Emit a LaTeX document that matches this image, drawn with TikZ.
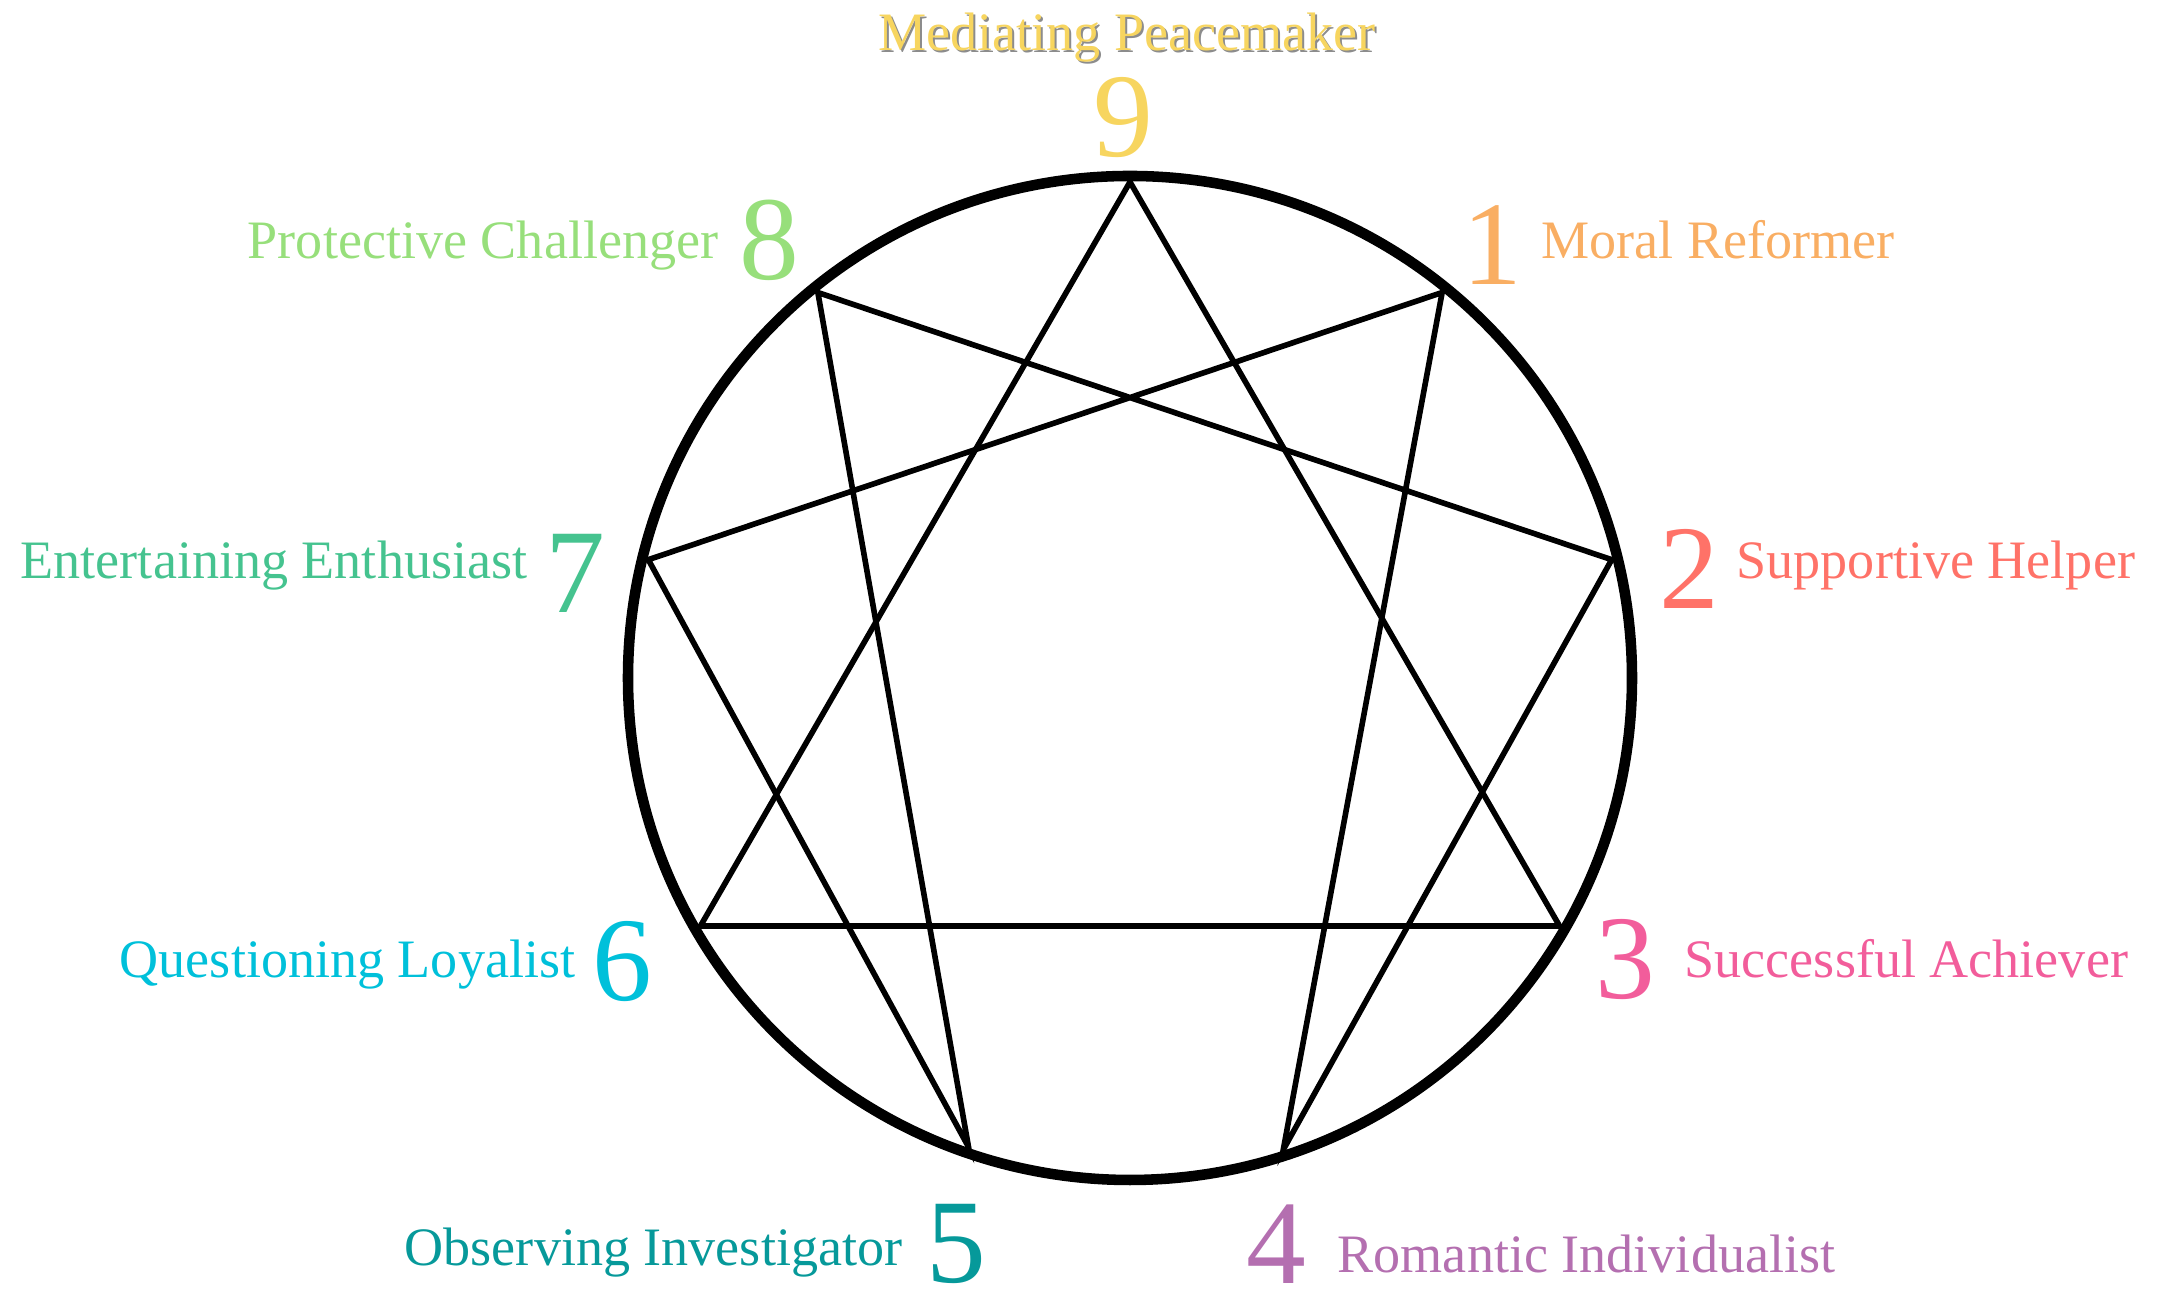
\documentclass[tikz,border=0pt]{standalone}
\usepackage{fontspec}
\setmainfont{Liberation Serif}
\usetikzlibrary{calc}
\definecolor{ink}{HTML}{000000}
\definecolor{shadowgray}{HTML}{8C8C8C}
\definecolor{typenine}{HTML}{F7D55F}
\definecolor{typeone}{HTML}{F9AE63}
\definecolor{typetwo}{HTML}{FF7268}
\definecolor{typethree}{HTML}{F25D9B}
\definecolor{typefour}{HTML}{B46FB0}
\definecolor{typefive}{HTML}{06999A}
\definecolor{typesix}{HTML}{00C0DA}
\definecolor{typeseven}{HTML}{45C38F}
\definecolor{typeeight}{HTML}{97DF7B}
\tikzset{
  ring/.style={draw=ink, line width=3pt},
  chord/.style={draw=ink, line width=1.6pt, line join=miter},
  type number/.style={font=\fontsize{34}{34}\selectfont, inner sep=0pt},
  type label/.style={font=\fontsize{15.4}{16}\selectfont, inner sep=0pt}
}

\begin{document}
\begin{tikzpicture}[x=1cm,y=1cm]
  \useasboundingbox (0,0) rectangle (21.61,12.97);
  % Circle and its nine points
  \coordinate (c) at (11.30,6.19);
  \draw[ring] (c) circle (5.02);
  \coordinate (p9) at ($(c)+(90:4.96)$);
  \coordinate (p1) at ($(c)+(51:4.96)$);
  \coordinate (p2) at ($(c)+(13.8:4.96)$);
  \coordinate (p3) at ($(c)+(-30:4.96)$);
  \coordinate (p4) at ($(c)+(-72:4.96)$);
  \coordinate (p5) at ($(c)+(-109:4.96)$);
  \coordinate (p6) at ($(c)+(-150:4.96)$);
  \coordinate (p7) at ($(c)+(166.2:4.96)$);
  \coordinate (p8) at ($(c)+(129:4.96)$);

  % Inner triangle and hexad
  \draw[chord] (p9) -- (p3) -- (p6) -- cycle;
  \draw[chord] (p1) -- (p4) -- (p2) -- (p8) -- (p5) -- (p7) -- cycle;

  % Type numbers
  \node[type number, text=typenine] (num9) at (11.23,11.79) {9};
  \node[type number, text=typeone] (num1) at (14.92,10.52) {1};
  \node[type number, text=typetwo] (num2) at (16.89,7.28) {2};
  \node[type number, text=typethree] (num3) at (16.25,3.37) {3};
  \node[type number, text=typefour] (num4) at (12.76,0.53) {4};
  \node[type number, text=typefive] (num5) at (9.56,0.53) {5};
  \node[type number, text=typesix] (num6) at (6.22,3.35) {6};
  \node[type number, text=typeseven] (num7) at (5.75,7.24) {7};
  \node[type number, text=typeeight] (num8) at (7.69,10.57) {8};

  % Type names
  \node[type label, text=shadowgray, anchor=base] (lab9shadow) at (11.29,12.44) {Mediating Peacemaker};
  \node[type label, text=typenine, anchor=base] (lab9) at (11.27,12.46) {Mediating Peacemaker};
  \node[type label, text=typeone, anchor=base west] (lab1) at (15.41,10.38) {Moral Reformer};
  \node[type label, text=typetwo, anchor=base west] (lab2) at (17.36,7.18) {Supportive Helper};
  \node[type label, text=typethree, anchor=base west] (lab3) at (16.84,3.19) {Successful Achiever};
  \node[type label, text=typefour, anchor=base west] (lab4) at (13.37,0.24) {Romantic Individualist};
  \node[type label, text=typefive, anchor=base east] (lab5) at (9.03,0.31) {Observing Investigator};
  \node[type label, text=typesix, anchor=base east] (lab6) at (5.76,3.19) {Questioning Loyalist};
  \node[type label, text=typeseven, anchor=base east] (lab7) at (5.28,7.18) {Entertaining Enthusiast};
  \node[type label, text=typeeight, anchor=base east] (lab8) at (7.19,10.38) {Protective Challenger};
\end{tikzpicture}
\end{document}
